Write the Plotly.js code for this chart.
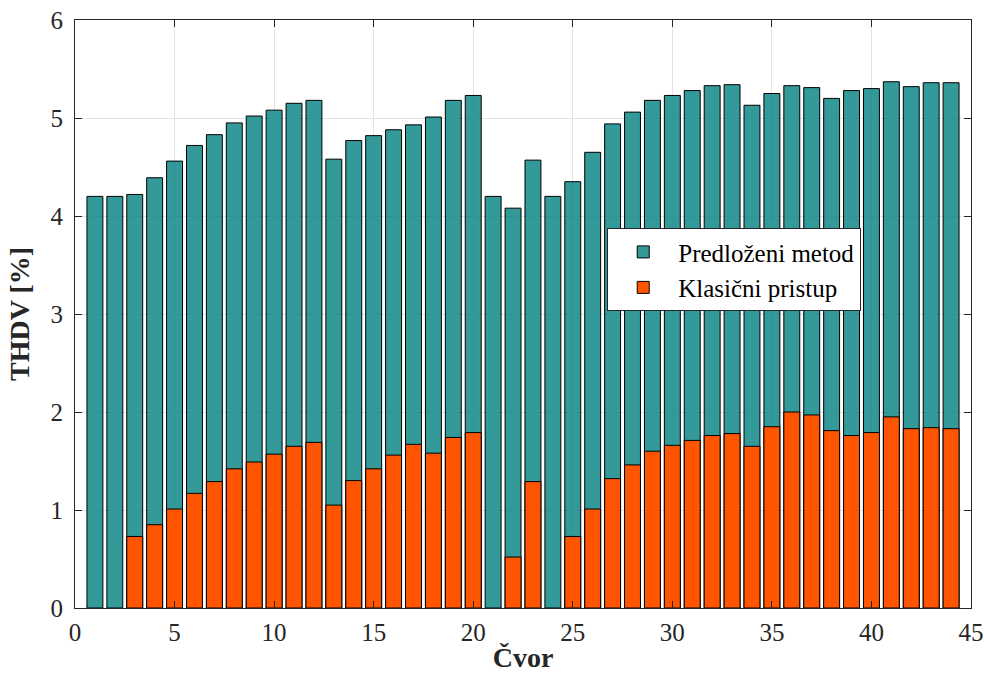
<!DOCTYPE html>
<html>
<head>
<meta charset="utf-8">
<script src="https://cdn.plot.ly/plotly-3.0.1.min.js"></script>
<style>html,body{margin:0;padding:0;background:#fff;}#chart{width:984px;height:680px;}</style>
</head>
<body>
<div id="chart"></div>
<script>
const nodes = [];
for (let i = 1; i <= 44; i++) nodes.push(i);

const predlozeniMetod = [
  4.20, 4.20, 4.22, 4.39, 4.56, 4.72, 4.83, 4.95, 5.02, 5.08,
  5.15, 5.18, 4.58, 4.77, 4.82, 4.88, 4.93, 5.01, 5.18, 5.23,
  4.20, 4.08, 4.57, 4.20, 4.35, 4.65, 4.94, 5.06, 5.18, 5.23,
  5.28, 5.33, 5.34, 5.13, 5.25, 5.33, 5.31, 5.20, 5.28, 5.30,
  5.37, 5.32, 5.36, 5.36
];

const klasicniPristup = [
  null, null, 0.73, 0.85, 1.01, 1.17, 1.29, 1.42, 1.49, 1.57,
  1.65, 1.69, 1.05, 1.30, 1.42, 1.56, 1.67, 1.58, 1.74, 1.79,
  null, 0.52, 1.29, null, 0.73, 1.01, 1.32, 1.46, 1.60, 1.66,
  1.71, 1.76, 1.78, 1.65, 1.85, 2.00, 1.97, 1.81, 1.76, 1.79,
  1.95, 1.83, 1.84, 1.83
];

const xTicks = [0, 5, 10, 15, 20, 25, 30, 35, 40, 45];
const yTicks = [0, 1, 2, 3, 4, 5, 6];

const font = 'Liberation Serif, Times New Roman, serif';

const traces = [
  {
    type: 'bar', name: 'Predloženi metod', x: nodes, y: predlozeniMetod,
    width: 0.8,
    marker: {color: 'rgba(0,128,128,0.8)', line: {color: '#000', width: 1}}
  },
  {
    type: 'bar', name: 'Klasični pristup', x: nodes, y: klasicniPristup,
    width: 0.8,
    marker: {color: '#ff5500', line: {color: '#000', width: 1}}
  }
];

const axisCommon = {
  showline: true, mirror: 'ticks', linecolor: '#262626', linewidth: 1,
  ticks: 'inside', ticklen: 7, tickwidth: 1, tickcolor: '#262626',
  showgrid: true, gridcolor: '#e3e3e3', gridwidth: 1, zeroline: false,
  tickfont: {family: font, size: 25, color: '#262626'}
};

const layout = {
  width: 984, height: 680,
  margin: {l: 75, r: 13, t: 20, b: 72},
  paper_bgcolor: '#fff', plot_bgcolor: '#fff',
  barmode: 'overlay',
  showlegend: true,
  legend: {
    x: 0.594, y: 0.646, xanchor: 'left', yanchor: 'top',
    bgcolor: '#fff', bordercolor: '#262626', borderwidth: 1,
    font: {family: font, size: 25, color: '#000'},
    traceorder: 'normal', itemwidth: 60, tracegroupgap: 0
  },
  xaxis: Object.assign({}, axisCommon, {
    range: [0, 45], tickvals: xTicks, ticktext: xTicks.map(String),
    ticklabelstandoff: 2,
    title: {text: '<b>Čvor</b>', font: {family: font, size: 28, color: '#262626'}, standoff: 2}
  }),
  yaxis: Object.assign({}, axisCommon, {
    range: [0, 6], tickvals: yTicks, ticktext: yTicks.map(String),
    ticklabelstandoff: 6,
    title: {text: '<b>THDV [%]</b>', font: {family: font, size: 28, color: '#262626'}, standoff: 12}
  })
};

Plotly.newPlot('chart', traces, layout, {displayModeBar: false, staticPlot: true});
</script>
</body>
</html>
